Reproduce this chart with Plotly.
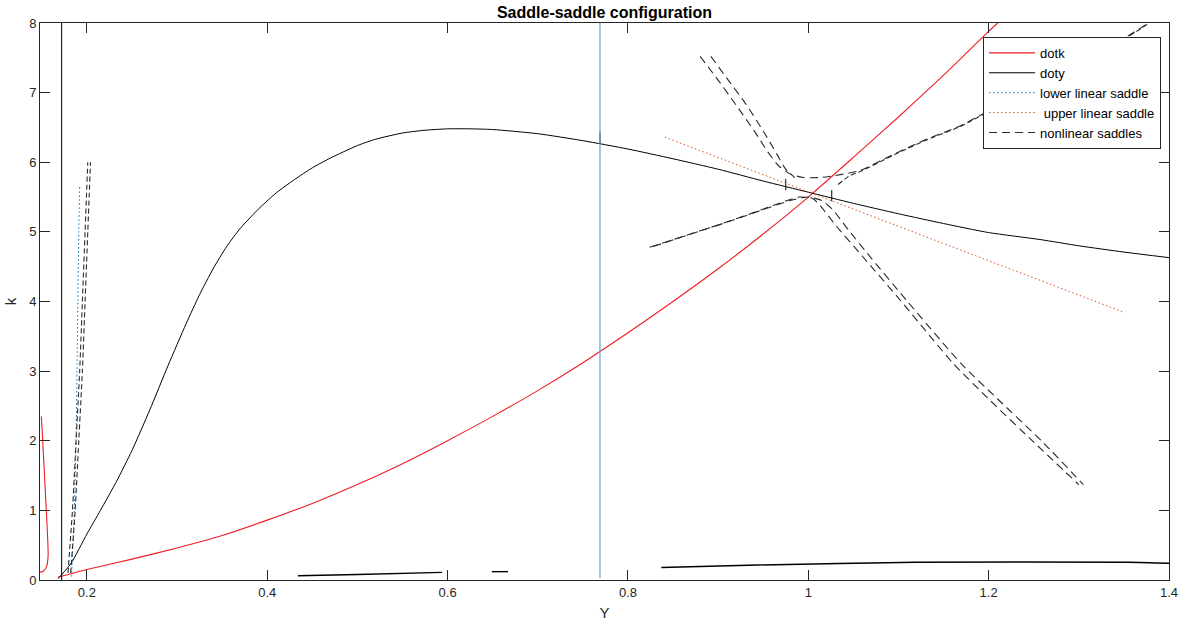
import plotly.graph_objects as go

# ---------------- data ----------------
# dotk (red solid)
dotk_left_Y = [0.1495, 0.151, 0.153, 0.155, 0.1565, 0.157, 0.1555, 0.152, 0.148]
dotk_left_k = [2.35, 2.0, 1.5, 1.0, 0.6, 0.35, 0.2, 0.13, 0.11]
dotk_Y = [0.168, 0.2, 0.25, 0.3, 0.35, 0.4, 0.45, 0.5, 0.55, 0.6, 0.65, 0.7, 0.75,
          0.8, 0.85, 0.9, 0.95, 1.0, 1.05, 1.1, 1.15, 1.2, 1.21]
dotk_k = [0.04, 0.15, 0.3, 0.46, 0.64, 0.86, 1.1, 1.37, 1.67, 2.0, 2.35, 2.72, 3.12,
          3.55, 4.0, 4.47, 4.97, 5.5, 6.07, 6.65, 7.25, 7.88, 8.0]

# doty (black solid)
doty_vert_Y = [0.172, 0.172]
doty_vert_k = [0.0, 8.0]
doty_Y = [0.168, 0.175, 0.183, 0.2, 0.215, 0.233, 0.25, 0.27, 0.29, 0.31, 0.325,
          0.34, 0.355, 0.37, 0.392, 0.41, 0.43, 0.45, 0.47, 0.5, 0.52, 0.55, 0.575,
          0.6, 0.625, 0.65, 0.7, 0.75, 0.8, 0.85, 0.9,
          0.95, 1.0, 1.05, 1.1, 1.15, 1.2, 1.257, 1.3, 1.35, 1.4]
doty_k = [0.02, 0.12, 0.25, 0.66, 1.0, 1.42, 1.86, 2.45, 3.08, 3.68, 4.1,
          4.47, 4.79, 5.05, 5.35, 5.56, 5.75, 5.92, 6.06, 6.24, 6.33, 6.42, 6.46,
          6.48, 6.48, 6.47, 6.41, 6.31, 6.19, 6.05, 5.9,
          5.73, 5.57, 5.41, 5.26, 5.12, 4.99, 4.89, 4.8, 4.71, 4.63]
doty_spike_Y = [0.769, 0.769]
doty_spike_k = [6.26, 6.43]
doty_tick1_Y = [0.975, 0.975]
doty_tick1_k = [5.6, 5.76]
doty_tick2_Y = [1.026, 1.026]
doty_tick2_k = [5.44, 5.6]
doty_low1_Y = [0.434, 0.5, 0.594]
doty_low1_k = [0.06, 0.08, 0.11]
doty_low2_Y = [0.649, 0.667]
doty_low2_k = [0.12, 0.12]
doty_low3_Y = [0.837, 0.944, 1.12, 1.355, 1.4]
doty_low3_k = [0.18, 0.215, 0.255, 0.255, 0.24]

# vertical marker line
vline_Y = [0.769, 0.769]
vline_k = [0.03, 8.0]

# lower linear saddle (blue dotted)
lls_Y = [0.183, 0.186, 0.188, 0.189, 0.190, 0.191, 0.192]
lls_k = [0.05, 1.0, 2.0, 3.0, 4.0, 5.0, 5.66]

# upper linear saddle (orange dotted)
uls_Y = [0.841, 1.351]
uls_k = [6.36, 3.84]

# nonlinear saddles (black dashed), two nearly coincident saddles
nlA_up_Y = [0.880, 0.90, 0.92, 0.94, 0.955, 0.967, 0.98, 0.995, 1.013, 1.03, 1.057,
            1.094, 1.131, 1.168, 1.193, 1.25, 1.3, 1.354, 1.376]
nlA_up_k = [7.52, 7.18, 6.82, 6.45, 6.15, 5.95, 5.83, 5.78, 5.78, 5.81, 5.88,
            6.11, 6.33, 6.52, 6.69, 7.08, 7.43, 7.81, 7.99]
nlB_upL_Y = [0.892, 0.91, 0.93, 0.95, 0.965, 0.975, 0.985]
nlB_upL_k = [7.52, 7.2, 6.85, 6.45, 6.12, 5.9, 5.78]
nlB_upR_Y = [1.033, 1.045, 1.06, 1.094, 1.131, 1.168, 1.193, 1.25, 1.3, 1.354, 1.376]
nlB_upR_k = [5.68, 5.8, 5.88, 6.1, 6.32, 6.51, 6.68, 7.07, 7.42, 7.8, 7.98]
nlA_lo_Y = [0.824, 0.86, 0.9, 0.94, 0.97, 0.99, 1.005, 1.013, 1.03, 1.06, 1.1, 1.16,
            1.2, 1.25, 1.30]
nlA_lo_k = [4.78, 4.93, 5.1, 5.28, 5.42, 5.5, 5.48, 5.38, 5.1, 4.65, 4.05, 3.12,
            2.6, 1.98, 1.37]
nlB_lo_Y = [0.828, 0.87, 0.91, 0.95, 0.98, 1.0, 1.015, 1.027, 1.045, 1.07, 1.11, 1.17,
            1.21, 1.26, 1.305]
nlB_lo_k = [4.79, 4.97, 5.14, 5.32, 5.45, 5.5, 5.45, 5.32, 5.02, 4.62, 4.0, 3.1,
            2.6, 1.98, 1.37]
nlL1_Y = [0.179, 0.184, 0.188, 0.192, 0.195, 0.198, 0.201]
nlL1_k = [0.1, 1.0, 2.0, 3.0, 4.0, 5.0, 6.0]
nlL2_Y = [0.182, 0.187, 0.191, 0.195, 0.198, 0.201, 0.204]
nlL2_k = [0.1, 1.0, 2.0, 3.0, 4.0, 5.0, 6.0]

x_ticks = [0.2, 0.4, 0.6, 0.8, 1.0, 1.2, 1.4]
x_tick_labels = ["0.2", "0.4", "0.6", "0.8", "1", "1.2", "1.4"]
y_ticks = [0, 1, 2, 3, 4, 5, 6, 7, 8]

# ---------------- figure ----------------
RED = "#f01c24"
BLACK = "#000000"
BLUE = "#0072bd"
ORANGE = "#d95319"
CYAN = "#5fa8c0"
NL = "#2a2a2a"

fig = go.Figure()


def add(xs, ys, name, color, dash="solid", width=1.0, show=False, group=None):
    fig.add_trace(go.Scatter(
        x=xs, y=ys, mode="lines", name=name,
        line=dict(color=color, dash=dash, width=width, shape="spline", smoothing=0.6),
        legendgroup=group or name, showlegend=show, hoverinfo="skip"))


add(dotk_Y, dotk_k, "dotk", RED, width=1.1, show=True)
add(dotk_left_Y, dotk_left_k, "dotk", RED, width=1.1)
add(doty_Y, doty_k, "doty", BLACK, show=True)
add(doty_vert_Y, doty_vert_k, "doty", BLACK)
add(doty_spike_Y, doty_spike_k, "doty", BLACK)
add(doty_tick1_Y, doty_tick1_k, "doty", BLACK)
add(doty_tick2_Y, doty_tick2_k, "doty", BLACK)
add(doty_low1_Y, doty_low1_k, "doty", BLACK, width=1.4)
add(doty_low2_Y, doty_low2_k, "doty", BLACK, width=1.4)
add(doty_low3_Y, doty_low3_k, "doty", BLACK, width=1.4)
add(vline_Y, vline_k, "vline", CYAN, width=1.2)
add(lls_Y, lls_k, "lower linear saddle", BLUE, dash="1.5px,2.5px", width=1.0, show=True)
add(uls_Y, uls_k, " upper linear saddle", ORANGE, dash="1.5px,2.5px", width=1.0, show=True)
nl_dash = "8px,5px"
add(nlA_up_Y, nlA_up_k, "nonlinear saddles", NL, dash=nl_dash, width=1.1, show=True)
add(nlB_upL_Y, nlB_upL_k, "nonlinear saddles", NL, dash=nl_dash, width=1.1)
add(nlB_upR_Y, nlB_upR_k, "nonlinear saddles", NL, dash="5px,3px", width=1.1)
add(nlA_lo_Y, nlA_lo_k, "nonlinear saddles", NL, dash=nl_dash, width=1.1)
add(nlB_lo_Y, nlB_lo_k, "nonlinear saddles", NL, dash=nl_dash, width=1.1)
add(nlL1_Y, nlL1_k, "nonlinear saddles", NL, dash="5px,3px", width=1.1)
add(nlL2_Y, nlL2_k, "nonlinear saddles", NL, dash="5px,3px", width=1.1)

FONT = "Liberation Sans, Arial, sans-serif"
AX = "#262626"

fig.update_layout(
    width=1187, height=632,
    margin=dict(l=40, r=18, t=23, b=52, autoexpand=False),
    paper_bgcolor="white", plot_bgcolor="white",
    font=dict(family=FONT, size=13, color=AX),
    title=dict(text="<b>Saddle-saddle configuration</b>", x=(40 + 1169) / 2 / 1187,
               xanchor="center", y=1 - 12 / 632, yanchor="middle",
               font=dict(family=FONT, size=16, color="#000000")),
    showlegend=True,
    legend=dict(x=0.8353, xanchor="left", y=0.975, yanchor="top",
                bgcolor="white", bordercolor=AX, borderwidth=1,
                font=dict(family=FONT, size=13, color="#000000"),
                itemwidth=46, tracegroupgap=0),
    xaxis=dict(range=[0.148, 1.4], tickvals=x_ticks, ticktext=x_tick_labels,
               ticks="inside", ticklen=10, tickcolor=AX, tickwidth=1,
               showline=True, linecolor=AX, linewidth=1, mirror="ticks",
               showgrid=False, zeroline=False, automargin=False,
               title=dict(text="Y", standoff=8, font=dict(family=FONT, size=15, color=AX))),
    yaxis=dict(range=[0, 8], tickvals=y_ticks,
               ticks="inside", ticklen=10, tickcolor=AX, tickwidth=1,
               showline=True, linecolor=AX, linewidth=1, mirror="ticks",
               showgrid=False, zeroline=False, automargin=False,
               title=dict(text="k", standoff=8, font=dict(family=FONT, size=15, color=AX))),
)

fig.write_html("out.html", config={"displayModeBar": False},
               post_script="document.body.style.margin='0';")
